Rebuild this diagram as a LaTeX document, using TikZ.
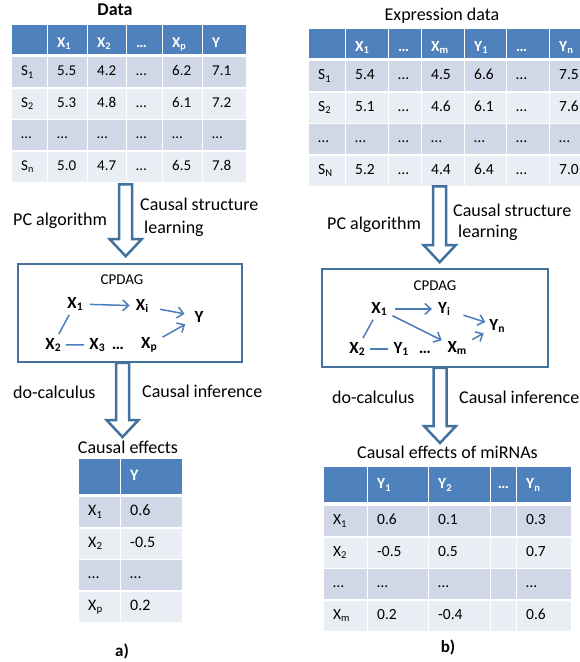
\documentclass[tikz,border=0pt]{standalone}
\usepackage{fontspec}
\setmainfont{Carlito}
\usetikzlibrary{matrix,calc,arrows.meta}
\definecolor{headblue}{HTML}{4F81BD}
\definecolor{rowdark}{HTML}{D0D8E8}
\definecolor{rowlight}{HTML}{E9EDF4}
\definecolor{frameblue}{HTML}{41719C}
\definecolor{edgeblue}{HTML}{4A7EBB}
\newcommand\sbs[1]{\raisebox{-0.35ex}{\scalebox{0.68}{#1}}}
\newcommand\fsz[1]{\fontsize{#1}{#1}\selectfont}
\begin{document}
\begin{tikzpicture}[x=1pt,y=-1pt,
tcell/.style={rectangle,inner xsep=9pt,inner ysep=0pt,minimum height=30pt,
  text height=11pt,text depth=4pt,align=left},
headcell/.style={fill=headblue,text=white,execute at begin node=\bfseries,
  minimum height=29pt,text height=17pt,text depth=2pt},
tabl/.style={matrix of nodes,nodes in empty cells,inner sep=0pt,
  column sep=1.5pt,row sep=1.5pt,anchor=north west,nodes={tcell},
  row 1/.style={nodes={headcell}},
  row 2/.style={nodes={fill=rowdark}},
  row 3/.style={nodes={fill=rowlight}},
  row 4/.style={nodes={fill=rowdark}},
  row 5/.style={nodes={fill=rowlight}}},
lbl/.style={font=\fsz{18},inner sep=0pt},
graphbox/.style={draw=frameblue,line width=1.6pt,minimum width=224pt,minimum height=98pt},
gnode/.style={font=\bfseries\fsz{17},inner xsep=3pt,inner ysep=2pt,anchor=base},
gedge/.style={draw=edgeblue,line width=1.5pt,-{Straight Barb[length=6pt,width=11pt]},
  shorten <=3pt,shorten >=3pt},
gline/.style={draw=edgeblue,line width=1.5pt,shorten <=2pt,shorten >=2pt},
blockarrow/.style={draw=frameblue,line width=2.5pt,fill=white,line join=miter,
  to path={let \p1=(\tikztostart),\p2=(\tikztotarget) in
    (\x1-6.5pt,\y1) -- (\x1-6.5pt,\y2+17pt) -- (\x1-16pt,\y2+17pt) -- (\x1,\y2)
    -- (\x1+16pt,\y2+17pt) -- (\x1+6.5pt,\y2+17pt) -- (\x1+6.5pt,\y1) -- cycle}}
]
\useasboundingbox (0,0) rectangle (579,662);

% a) left side
\node[lbl,font=\bfseries\fsz{18},anchor=base] (titleA) at (115,15) {Data};
\matrix (dataA) [tabl,nodes={font=\fsz{15}},
  column 1/.style={nodes={text width=16.5pt}},
  column 2/.style={nodes={text width=20.5pt}},
  column 3/.style={nodes={text width=19.5pt}},
  column 4/.style={nodes={text width=16.5pt}},
  column 5/.style={nodes={text width=20.5pt}},
  column 6/.style={nodes={text width=25pt}}] at (12,25) {
  & X\sbs{1} & X\sbs{2} & … & X\sbs{p} & Y \\[1.5pt]
  S\sbs{1} & 5.5 & 4.2 & … & 6.2 & 7.1 \\
  S\sbs{2} & 5.3 & 4.8 & … & 6.1 & 7.2 \\
  … & … & … & … & … & … \\
  S\sbs{n} & 5.0 & 4.7 & … & 6.5 & 7.8 \\
};
\node[lbl,anchor=base west] (pcA) at (13,225) {PC algorithm};
\node[lbl,anchor=base west] (csA) at (140,210) {Causal structure};
\node[lbl,anchor=base west] (learnA) at (144,233) {learning};

\node[graphbox] (boxA) at (130,313) {};
\node[lbl,font=\fsz{15},anchor=base] (cpdagA) at (122,284) {CPDAG};
\node[gnode] (x1A) at (75,308) {X\sbs{1}};
\node[gnode] (xiA) at (142,310) {X\sbs{i}};
\node[gnode] (yA) at (199,322) {Y};
\node[gnode] (x2A) at (53,349) {X\sbs{2}};
\node[gnode] (x3A) at (97,349) {X\sbs{3}};
\node[gnode] (dotsA) at (118,349) {…};
\node[gnode] (xpA) at (149,348) {X\sbs{p}};
\draw[gedge,shorten <=4pt] (x1A) -- (xiA);
\draw[gedge,shorten <=9pt,shorten >=7pt] (xiA) -- (yA);
\draw[gedge,shorten >=7pt] (xpA) -- (yA);
\draw[gline] (x2A) -- (x1A);
\draw[gline] (x2A) -- (x3A);

\node[lbl,anchor=base west] (docA) at (13,398) {do-calculus};
\node[lbl,anchor=base west] (infA) at (142,397) {Causal inference};
\node[lbl,anchor=base] (effA) at (128,453) {Causal effects};
\matrix (resA) [tabl,nodes={font=\fsz{16}},
  row 1/.append style={nodes={minimum height=35pt,text height=12pt,text depth=4pt}},
  column 1/.style={nodes={text width=22.5pt}},
  column 2/.style={nodes={text width=43pt}}] at (79,459) {
  & Y \\[1.5pt]
  X\sbs{1} & 0.6 \\
  X\sbs{2} & -0.5 \\
  … & … \\
  X\sbs{p} & 0.2 \\
};
\node[lbl,font=\bfseries\fsz{17},anchor=base] (capA) at (122,656) {a)};

\draw[blockarrow] ([shift={(-3.5,2.5)}]dataA.south) to ([shift={(0,-7)}]boxA.north);
\draw[blockarrow] ([shift={(-7.5,0)}]boxA.south) to ([shift={(0,-22)}]resA.north);

% b) right side
\node[lbl,anchor=base] (titleB) at (442,20) {Expression data};
\matrix (dataB) [tabl,nodes={font=\fsz{15.5}},
  column 1/.style={nodes={text width=17.5pt}},
  column 2/.style={nodes={text width=23.5pt}},
  column 3/.style={nodes={text width=13.5pt}},
  column 4/.style={nodes={text width=23.5pt}},
  column 5/.style={nodes={text width=22.5pt}},
  column 6/.style={nodes={text width=23.5pt}},
  column 7/.style={nodes={text width=25pt}}] at (309,29) {
  & X\sbs{1} & … & X\sbs{m} & Y\sbs{1} & … & Y\sbs{n} \\[1.5pt]
  S\sbs{1} & 5.4 & … & 4.5 & 6.6 & … & 7.5 \\
  S\sbs{2} & 5.1 & … & 4.6 & 6.1 & … & 7.6 \\
  … & … & … & … & … & … & … \\
  S\sbs{N} & 5.2 & … & 4.4 & 6.4 & … & 7.0 \\
};
\node[lbl,anchor=base west] (pcB) at (327,229) {PC algorithm};
\node[lbl,anchor=base west] (csB) at (453,216) {Causal structure};
\node[lbl,anchor=base west] (learnB) at (458,237) {learning};

\node[graphbox,minimum width=226pt] (boxB) at (435,318) {};
\node[lbl,font=\fsz{15},anchor=base] (cpdagB) at (435,290) {CPDAG};
\node[gnode] (x1B) at (379,313) {X\sbs{1}};
\node[gnode] (yiB) at (444,313) {Y\sbs{i}};
\node[gnode] (ynB) at (497,330) {Y\sbs{n}};
\node[gnode] (x2B) at (357,353) {X\sbs{2}};
\node[gnode] (y1B) at (401,353) {Y\sbs{1}};
\node[gnode] (dotsB) at (425,353) {…};
\node[gnode] (xmB) at (457,352) {X\sbs{m}};
\draw[gedge,shorten <=5pt] (x1B) -- (yiB);
\draw[gedge,shorten <=11pt,shorten >=1pt] (yiB) -- (ynB);
\draw[gedge] (x1B) -- (xmB);
\draw[gedge] (xmB) -- (ynB);
\draw[gline] (x2B) -- (x1B);
\draw[gline] (x2B) -- (y1B);

\node[lbl,anchor=base west] (docB) at (332,403) {do-calculus};
\node[lbl,anchor=base west] (infB) at (459,403) {Causal inference};
\node[lbl,anchor=base] (effB) at (447.5,458) {Causal effects of miRNAs};
\matrix (resB) [tabl,nodes={font=\fsz{15.5}},
  row 1/.append style={nodes={minimum height=35pt,text height=12pt,text depth=4pt}},
  column 1/.style={nodes={text width=24.5pt}},
  column 2/.style={nodes={text width=41.5pt}},
  column 3/.style={nodes={text width=42.5pt}},
  column 4/.style={nodes={inner xsep=3pt,text width=18.5pt,align=center}},
  column 5/.style={nodes={text width=36pt}}] at (324,467) {
  & Y\sbs{1} & Y\sbs{2} & … & Y\sbs{n} \\[2.5pt]
  X\sbs{1} & 0.6 & 0.1 & & 0.3 \\
  X\sbs{2} & -0.5 & 0.5 & & 0.7 \\
  … & … & … & & … \\
  X\sbs{m} & 0.2 & -0.4 & & 0.6 \\
};
\node[lbl,font=\bfseries\fsz{17},anchor=base] (capB) at (448,652) {b)};

\draw[blockarrow] ([shift={(-11.5,0.5)}]dataB.south) to ([shift={(0,-6)}]boxB.north);
\draw[blockarrow] ([shift={(5,0)}]boxB.south) to ([shift={(0,-24)}]resB.north);
\end{tikzpicture}
\end{document}
